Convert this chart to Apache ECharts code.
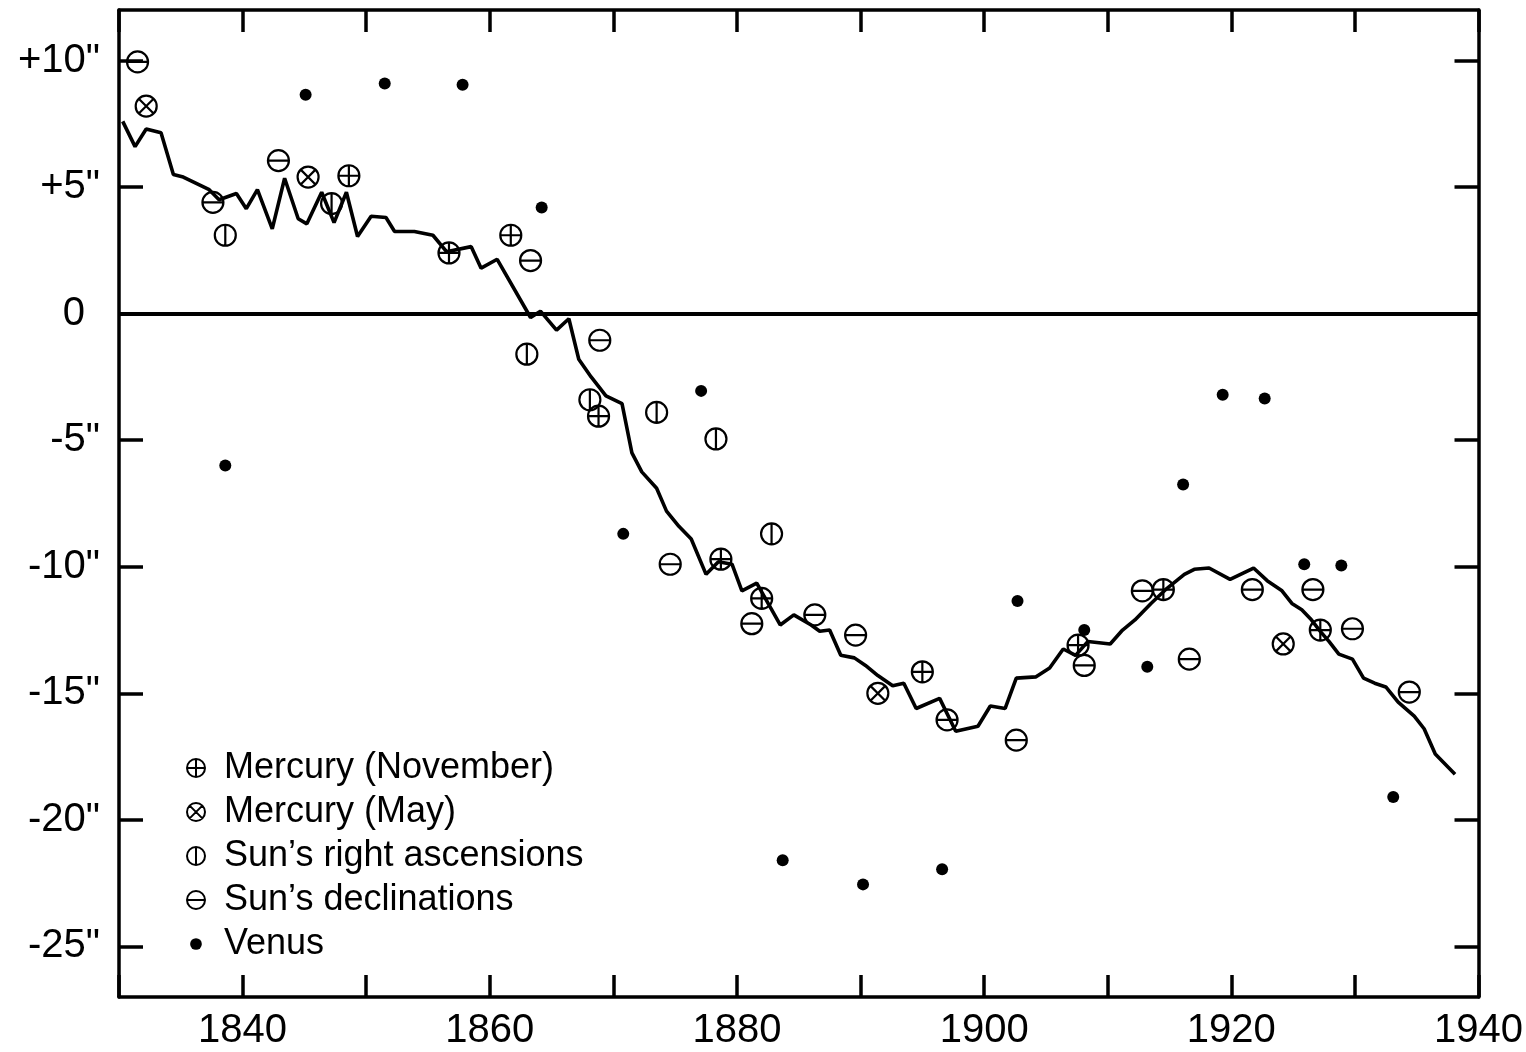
<!DOCTYPE html>
<html>
<head>
<meta charset="utf-8">
<script src="https://cdn.jsdelivr.net/npm/echarts@6/dist/echarts.min.js"></script>
<style>
html,body{margin:0;padding:0;background:#fff;}
#chart{width:1526px;height:1052px;}
</style>
</head>
<body>
<div id="chart"></div>
<script>
// ---- Data ----
const lineYears = [1830.3,1831.3,1832.2,1833.4,1834.4,1835.2,1837.3,1838.1,1839.5,1840.3,1841.2,1842.4,1843.4,1844.5,1845.2,1846.4,1847.4,1848.4,1849.3,1850.4,1851.6,1852.3,1853.9,1855.4,1856.5,1858.5,1859.3,1860.6,1863.3,1864.1,1865.4,1866.4,1867.2,1868.2,1869.4,1870.7,1871.5,1872.3,1873.5,1874.3,1875.3,1876.3,1877.5,1878.5,1879.6,1880.4,1881.6,1883.5,1884.6,1886.0,1886.7,1887.5,1888.4,1889.5,1890.4,1891.4,1892.6,1893.5,1894.5,1896.4,1897.7,1899.5,1900.5,1901.7,1902.6,1904.2,1905.3,1906.4,1907.4,1908.4,1910.2,1911.2,1912.2,1913.5,1914.8,1916.2,1917.0,1918.2,1919.9,1921.8,1922.9,1924.1,1924.9,1925.7,1926.4,1927.2,1927.9,1928.7,1929.8,1930.7,1931.6,1932.5,1933.5,1934.8,1935.6,1936.5,1938.1];
const lineValues = [7.6,6.6,7.3,7.15,5.5,5.4,4.9,4.5,4.75,4.15,4.9,3.35,5.35,3.75,3.55,4.8,3.6,4.8,3.05,3.85,3.8,3.25,3.25,3.1,2.45,2.65,1.8,2.15,-0.15,0.1,-0.65,-0.2,-1.8,-2.5,-3.25,-3.55,-5.5,-6.25,-6.9,-7.8,-8.4,-8.9,-10.3,-9.8,-9.9,-10.95,-10.65,-12.3,-11.9,-12.3,-12.55,-12.5,-13.5,-13.6,-13.9,-14.3,-14.7,-14.6,-15.6,-15.2,-16.5,-16.3,-15.5,-15.6,-14.4,-14.35,-14.0,-13.25,-13.5,-12.95,-13.05,-12.5,-12.1,-11.45,-10.85,-10.3,-10.1,-10.05,-10.5,-10.05,-10.55,-10.95,-11.45,-11.7,-12.05,-12.55,-12.95,-13.45,-13.65,-14.4,-14.6,-14.75,-15.35,-15.9,-16.4,-17.4,-18.2];

const mercNovYears  = [1848.6,1856.7,1861.7,1868.8,1878.7,1882.0,1895.0,1907.6,1914.5,1927.2];
const mercNovValues = [5.45,2.4,3.1,-4.05,-9.7,-11.25,-14.15,-13.1,-10.9,-12.5];

const mercMayYears  = [1832.2,1845.3,1891.4,1924.2];
const mercMayValues = [8.2,5.4,-15.0,-13.05];

const sunRAYears  = [1838.6,1847.2,1863.0,1868.1,1873.5,1878.3,1882.8];
const sunRAValues = [3.1,4.35,-1.6,-3.4,-3.9,-4.95,-8.7];

const sunDecYears  = [1831.5,1837.6,1842.9,1863.3,1868.9,1874.6,1881.2,1886.3,1889.6,1897.0,1902.6,1908.1,1912.8,1916.6,1921.7,1926.6,1929.8,1934.4];
const sunDecValues = [9.95,4.4,6.05,2.1,-1.05,-9.9,-12.25,-11.9,-12.7,-16.05,-16.85,-13.9,-10.95,-13.65,-10.9,-10.9,-12.45,-14.95];

const venusYears  = [1838.6,1845.1,1851.5,1857.8,1864.2,1870.8,1877.1,1883.7,1890.2,1896.6,1902.7,1908.1,1913.2,1916.1,1919.3,1922.7,1925.9,1928.9,1933.1];
const venusValues = [-6.0,8.65,9.1,9.05,4.2,-8.7,-3.05,-21.6,-22.55,-21.95,-11.35,-12.5,-13.95,-6.75,-3.2,-3.35,-9.9,-9.95,-19.1];

const seriesNames = ['Mercury (November)','Mercury (May)','Sun\u2019s right ascensions','Sun\u2019s declinations','Venus'];
const yTickValues = [-25,-20,-15,-10,-5,0,5,10];

// ---- Build ----
const zip = (xs, ys) => xs.map((x, i) => [x, ys[i]]);
const RING = 'M0,-10A10,10,0,1,1,0,10A10,10,0,1,1,0,-10Z';
const symPlus  = 'path://' + RING + 'M-10,0L10,0M0,-10L0,10';
const symCross = 'path://' + RING + 'M-7.07,-7.07L7.07,7.07M-7.07,7.07L7.07,-7.07';
const symVert  = 'path://' + RING + 'M0,-10L0,10';
const symHoriz = 'path://' + RING + 'M-10,0L10,0';
const symDotLegend = 'path://M-10,-10L-10,-10M10,10L10,10M0,-6.5A6.5,6.5,0,1,1,0,6.5A6.5,6.5,0,1,1,0,-6.5Z';

const FONT = '"Liberation Sans", Arial, Helvetica, sans-serif';
const hollow = { color: 'rgba(0,0,0,0)', borderColor: '#000', borderWidth: 2.2, opacity: 1 };
const legendHollow = { color: 'rgba(0,0,0,0)', borderColor: '#000', borderWidth: 2, opacity: 1 };

function scatter(name, sym, xs, ys) {
  return {
    type: 'scatter', name: name, symbol: sym, symbolSize: 21, symbolKeepAspect: true,
    itemStyle: hollow, data: zip(xs, ys), z: 3
  };
}

const chart = echarts.init(document.getElementById('chart'), null, { renderer: 'canvas' });
const axisLine = { show: true, onZero: false, lineStyle: { color: '#000', width: 3.5 } };
const option = {
  backgroundColor: '#fff',
  animation: false,
  grid: { left: 119, right: 44, top: 10, bottom: 55, containLabel: false },
  xAxis: [
    {
      type: 'value', min: 1830, max: 1940, interval: 10, position: 'bottom',
      axisLine: axisLine,
      axisTick: { show: true, inside: true, length: 22, lineStyle: { color: '#000', width: 3.5 } },
      axisLabel: {
        color: '#000', fontSize: 40, fontFamily: FONT, margin: 14,
        formatter: v => (v % 20 === 0 ? String(v) : '')
      },
      splitLine: { show: false }
    },
    {
      type: 'value', min: 1830, max: 1940, interval: 10, position: 'top',
      axisLine: axisLine,
      axisTick: { show: true, inside: true, length: 22, lineStyle: { color: '#000', width: 3.5 } },
      axisLabel: { show: false },
      splitLine: { show: false }
    }
  ],
  yAxis: [
    {
      type: 'value', min: -27, max: 12, position: 'left',
      axisLine: axisLine,
      axisTick: { show: true, inside: true, length: 24, customValues: yTickValues, lineStyle: { color: '#000', width: 3.5 } },
      axisLabel: {
        color: '#000', fontSize: 40, fontFamily: FONT, margin: 19, customValues: yTickValues,
        formatter: v => (v > 0 ? '+' + v + '"' : (v === 0 ? '{z|0}' : v + '"')),
        rich: { z: { fontSize: 40, fontFamily: FONT, color: '#000', padding: [0, 15, 0, 0] } }
      },
      splitLine: { show: false }
    },
    {
      type: 'value', min: -27, max: 12, position: 'right',
      axisLine: axisLine,
      axisTick: { show: true, inside: true, length: 24, customValues: yTickValues, lineStyle: { color: '#000', width: 3.5 } },
      axisLabel: { show: false },
      splitLine: { show: false }
    }
  ],
  legend: {
    orient: 'vertical', left: 186, top: 750, padding: 0,
    itemWidth: 18, itemHeight: 18, itemGap: 8,
    textStyle: { color: '#000', fontSize: 36, fontFamily: FONT, lineHeight: 36, padding: [0, 0, 0, 14] },
    data: [
      { name: seriesNames[0], icon: symPlus,  itemStyle: legendHollow },
      { name: seriesNames[1], icon: symCross, itemStyle: legendHollow },
      { name: seriesNames[2], icon: symVert,  itemStyle: legendHollow },
      { name: seriesNames[3], icon: symHoriz, itemStyle: legendHollow },
      { name: seriesNames[4], icon: symDotLegend, itemStyle: { color: '#000', borderWidth: 0, opacity: 1 } }
    ]
  },
  series: [
    {
      type: 'line', name: 'mean', data: zip(lineYears, lineValues),
      showSymbol: false, symbol: 'none', z: 2,
      lineStyle: { color: '#000', width: 3.6 },
      markLine: {
        silent: true, symbol: ['none', 'none'], label: { show: false },
        lineStyle: { color: '#000', width: 3.8, type: 'solid' },
        data: [{ yAxis: 0 }]
      }
    },
    scatter(seriesNames[0], symPlus,  mercNovYears, mercNovValues),
    scatter(seriesNames[1], symCross, mercMayYears, mercMayValues),
    scatter(seriesNames[2], symVert,  sunRAYears, sunRAValues),
    scatter(seriesNames[3], symHoriz, sunDecYears, sunDecValues),
    {
      type: 'scatter', name: seriesNames[4], symbol: 'circle', symbolSize: 12,
      itemStyle: { color: '#000', opacity: 1 }, data: zip(venusYears, venusValues), z: 3
    }
  ]
};
chart.setOption(option);
</script>
</body>
</html>
